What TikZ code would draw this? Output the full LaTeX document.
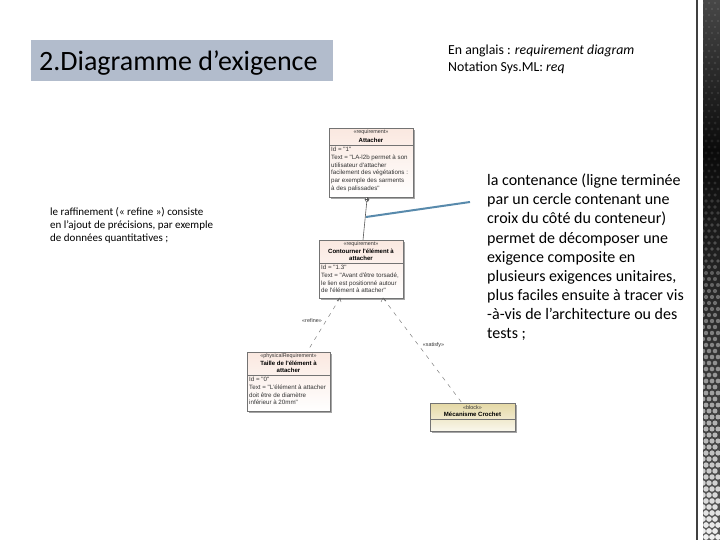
\documentclass[tikz,border=0pt]{standalone}
\usepackage{fontspec}
\setmainfont{Carlito}
\newfontfamily\umlfont{Liberation Sans}
\usetikzlibrary{positioning,calc}
\definecolor{titlebg}{RGB}{178,188,204}
\definecolor{reqtop}{RGB}{250,232,224}
\definecolor{blocktop}{RGB}{228,216,165}
\definecolor{callout}{RGB}{88,138,172}
\tikzset{
  x=1pt,y=-1pt,
  reqbox/.style={draw=black!55,line width=.5pt,top color=reqtop,bottom color=white,inner sep=0pt,anchor=north west},
  blockbox/.style={draw=black!55,line width=.5pt,top color=blocktop,bottom color=white!80!blocktop,inner sep=0pt,anchor=north west},
  umltxt/.style={font=\umlfont\fontsize{5.4}{7}\selectfont,text=black!80,inner sep=0pt},
  umlbold/.style={font=\umlfont\bfseries\fontsize{6.05}{7.6}\selectfont,text=black,inner sep=0pt,align=center},
  uml/.style={font=\umlfont\fontsize{6.2}{7.7}\selectfont,text=black!80,inner sep=0pt,align=left,anchor=north west},
  dep/.style={draw=black!50,line width=.5pt,dash pattern=on 4pt off 5pt},
}
\begin{document}
\begin{tikzpicture}
\useasboundingbox (0,0) rectangle (720,540);
\fill[white] (0,0) rectangle (720,540);
% decorative stripe
\fill[black!75] (696,0) rectangle (698.3,540);
\shade[top color=black!72,bottom color=black!96] (703,0) rectangle (720,150);
\shade[top color=black!96,bottom color=black!65] (703,150) rectangle (720,540);
\begin{scope}
\clip (703,0) rectangle (720,540);
\foreach \r in {0,...,89}{
  \pgfmathsetmacro{\yy}{\r*6+3}
  \pgfmathsetmacro{\rad}{1.1+1.8*\r/89}
  \pgfmathsetmacro{\lev}{\r<25 ? 36-\r : 11+(\r-25)*1.3}
  \pgfmathsetmacro{\off}{mod(\r,2)*3}
  \foreach \c in {0,1,2}{
    \fill[white!\lev!black] ({703+\off+\c*6},\yy) circle[radius=\rad];
  }
}
\end{scope}
% title
\node[fill=titlebg,minimum width=302pt,minimum height=41pt,inner sep=0pt,anchor=north west] (titlebox) at (31,40) {};
\node[font=\fontsize{28}{30}\selectfont,anchor=west,inner sep=0pt] (titletxt) at (39,63) {2.Diagramme d’exigence};
% top right
\node[font=\fontsize{13.8}{17}\selectfont,align=left,anchor=north west,inner sep=0pt] (entxt) at (448,45) {En anglais : \textit{requirement diagram}\\Notation Sys.ML: \textit{req}};
% left
\node[font=\fontsize{11}{13}\selectfont,align=left,anchor=north west,inner sep=0pt] (lefttxt) at (50,207) {le raffinement (« refine ») consiste\\en l’ajout de précisions, par exemple\\de données quantitatives ;};
% right
\node[font=\fontsize{16}{19.05}\selectfont,align=left,anchor=north west,inner sep=0pt] (righttxt) at (487,174) {la contenance (ligne terminée\\par un cercle contenant une\\croix du côté du conteneur)\\permet de décomposer une\\exigence composite en\\plusieurs exigences unitaires,\\plus faciles ensuite à tracer vis\\-à-vis de l’architecture ou des\\tests ;};
% UML boxes
\fill[black!35] (331,130) rectangle (415,199);
\node[reqbox,minimum width=84pt,minimum height=69pt] (att) at (329,128) {};
\draw[black!55,line width=.5pt] (329,145) -- (413,145);
\node[umltxt] (att1) at (371,132.5) {«requirement»};
\node[umlbold] (att2) at (371,140) {Attacher};
\node[uml] (att3) at (331,147) {Id = "1"\\Text = "LA-l2b permet à son\\utilisateur d'attacher\\facilement des végétations :\\par exemple des sarments\\à des palissades"};
\fill[black!35] (321,242) rectangle (405,300);
\node[reqbox,minimum width=84pt,minimum height=58pt] (con) at (319,240) {};
\draw[black!55,line width=.5pt] (319,263) -- (403,263);
\node[umltxt] (con1) at (361,244.5) {«requirement»};
\node[umlbold] (con2) at (361,255) {Contourner l'élément à\\attacher};
\node[uml] (con3) at (321,265) {Id = "1.3"\\Text = "Avant d'être torsadé,\\le lien est positionné autour\\de l'élément à attacher"};
\fill[black!35] (249,354) rectangle (332,413);
\node[reqbox,minimum width=83pt,minimum height=59pt] (phy) at (247,352) {};
\draw[black!55,line width=.5pt] (247,375) -- (330,375);
\node[umltxt] (phy1) at (288.5,356.5) {«physicalRequirement»};
\node[umlbold] (phy2) at (288.5,367) {Taille de l'élément à\\attacher};
\node[uml] (phy3) at (249,377) {Id = "0"\\Text = "L'élément à attacher\\doit être de diamètre\\inférieur à 20mm"};
\fill[black!35] (432,405) rectangle (517,433);
\node[blockbox,minimum width=85pt,minimum height=28pt] (blk) at (430,403) {};
\draw[black!55,line width=.5pt] (430,419) -- (515,419);
\node[umltxt] (blk1) at (472.5,407.5) {«block»};
\node[umlbold] (blk2) at (472.5,414) {Mécanisme Crochet};
% connectors
\coordinate (conA) at (363,240);
\coordinate (attA) at (367,199.5);
\draw[black!65,line width=.6pt] (attA) -- (conA);
\draw[black!65,line width=.5pt,fill=white] (attA) circle[radius=2];
\draw[black!65,line width=.4pt] (365,199.5) -- (369,199.5) (367,197.5) -- (367,201.5);
\coordinate (conB) at (340,298);
\coordinate (phyB) at (307,352);
\coordinate (conC) at (383,298);
\coordinate (blkC) at (462,403);
\draw[dep] (conB) -- (phyB);
\draw[dep] (conC) -- (blkC);
\draw[black!65,line width=.4pt] (381,302) -- (383,298) -- (386,301);
\draw[black!65,line width=.4pt] (337,301) -- (340,298) -- (341,302);
\node[umltxt] (lblR) at (312,320.5) {«refine»};
\node[umltxt] (lblS) at (433.5,345.5) {«satisfy»};
% callout
\coordinate (calStart) at (470,202);
\coordinate (calEnd) at (366,217);
\draw[callout,line width=2pt] (calStart) -- (calEnd);
\end{tikzpicture}
\end{document}
